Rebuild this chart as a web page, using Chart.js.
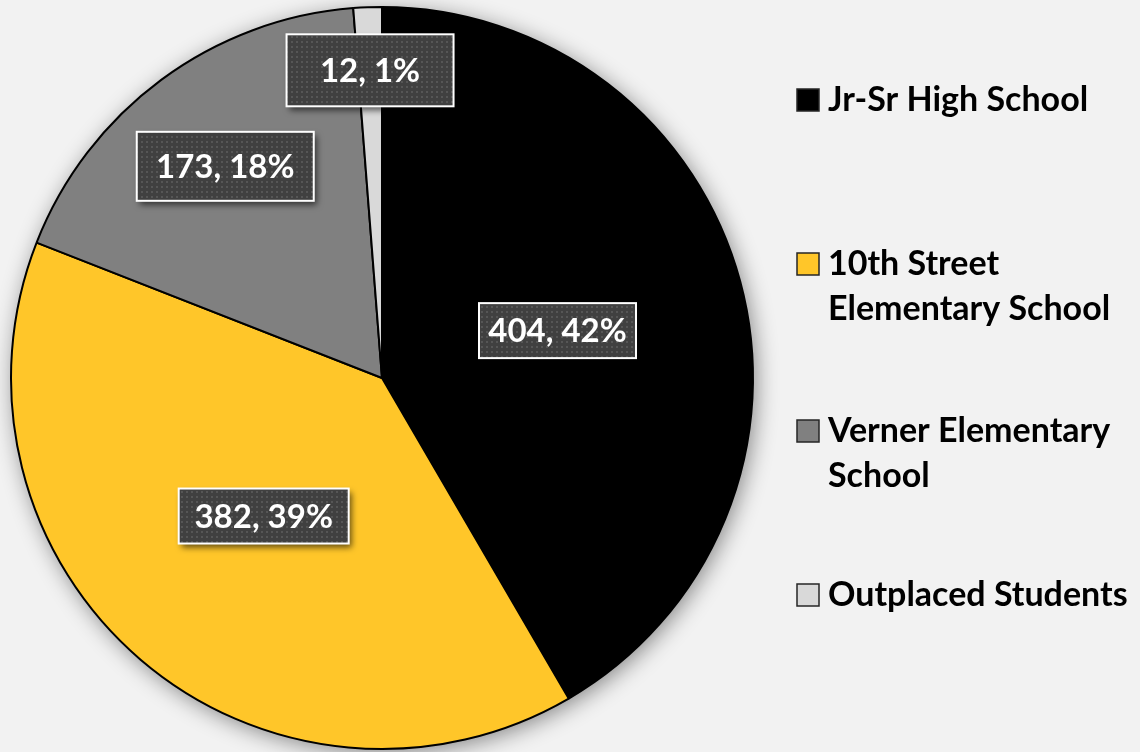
<!DOCTYPE html>
<html>
<head>
<meta charset="utf-8">
<script src="https://cdn.jsdelivr.net/npm/chart.js@4.4.1/dist/chart.umd.min.js"></script>
<style>
  html, body { margin: 0; padding: 0; background: #f2f2f2; }
  #wrap { width: 1140px; height: 752px; }
</style>
</head>
<body>
<div id="wrap"><canvas id="c" width="1140" height="752"></canvas></div>
<script>
// ---- data ----
const categories = ['Jr-Sr High School', '10th Street Elementary School', 'Verner Elementary School', 'Outplaced Students'];
const legendLines = [['Jr-Sr High School'], ['10th Street', 'Elementary School'], ['Verner Elementary', 'School'], ['Outplaced Students']];
const values = [404, 382, 173, 12];
const sliceColors = ['#000000', '#FFC629', '#808080', '#D9D9D9'];

const total = values.reduce((a, b) => a + b, 0);
const labelTexts = values.map(v => v + ', ' + Math.round(v / total * 100) + '%');

// dotted pattern for label boxes
function makePattern(ctx) {
  const p = document.createElement('canvas');
  p.width = 5; p.height = 5;
  const pc = p.getContext('2d');
  pc.fillStyle = '#404040';
  pc.fillRect(0, 0, 5, 5);
  pc.fillStyle = '#565656';
  pc.fillRect(1, 1, 2, 2);
  return ctx.createPattern(p, 'repeat');
}

const pieShadow = {
  id: 'pieShadow',
  beforeDatasetsDraw(chart) {
    const arc = chart.getDatasetMeta(0).data[0];
    if (!arc) return;
    const ctx = chart.ctx;
    ctx.save();
    ctx.shadowColor = 'rgba(0,0,0,0.45)';
    ctx.shadowBlur = 22;
    ctx.shadowOffsetX = 3;
    ctx.shadowOffsetY = 4;
    ctx.fillStyle = '#808080';
    ctx.beginPath();
    ctx.arc(arc.x, arc.y, arc.outerRadius, 0, Math.PI * 2);
    ctx.fill();
    ctx.restore();
  }
};

const boxLabels = {
  id: 'boxLabels',
  afterDatasetsDraw(chart, args, opts) {
    const ctx = chart.ctx;
    const pattern = makePattern(ctx);
    chart.getDatasetMeta(0).data.forEach((arc, i) => {
      const mid = (arc.startAngle + arc.endAngle) / 2;
      const r = arc.outerRadius * opts.frac[i];
      const cx = arc.x + Math.cos(mid) * r;
      const cy = arc.y + Math.sin(mid) * r;
      const w = opts.w[i], h = opts.h[i];
      const x0 = cx - w / 2, y0 = cy - h / 2;
      ctx.save();
      ctx.shadowColor = 'rgba(0,0,0,0.6)';
      ctx.shadowBlur = 6;
      ctx.shadowOffsetX = 3;
      ctx.shadowOffsetY = 4;
      ctx.fillStyle = pattern;
      ctx.fillRect(x0, y0, w, h);
      ctx.restore();
      ctx.save();
      ctx.strokeStyle = '#ffffff';
      ctx.lineWidth = 2;
      ctx.strokeRect(x0, y0, w, h);
      ctx.fillStyle = '#ffffff';
      ctx.font = 'bold 33px Lato';
      ctx.textAlign = 'center';
      ctx.textBaseline = 'middle';
      ctx.fillText(labelTexts[i], cx, cy + 1);
      ctx.restore();
    });
  }
};

const sideLegend = {
  id: 'sideLegend',
  afterDraw(chart, args, opts) {
    const ctx = chart.ctx;
    ctx.save();
    ctx.font = 'bold 34px Lato';
    ctx.textBaseline = 'alphabetic';
    ctx.textAlign = 'left';
    legendLines.forEach((lines, i) => {
      const b = opts.baselines[i];
      ctx.fillStyle = sliceColors[i];
      ctx.fillRect(opts.boxX, b - 22, 22, 22);
      ctx.strokeStyle = '#262626';
      ctx.lineWidth = 1.5;
      ctx.strokeRect(opts.boxX, b - 22, 22, 22);
      ctx.fillStyle = '#000000';
      lines.forEach((t, j) => ctx.fillText(t, opts.textX, b + j * opts.lineH));
    });
    ctx.restore();
  }
};

new Chart(document.getElementById('c'), {
  type: 'pie',
  data: {
    labels: categories,
    datasets: [{
      data: values,
      backgroundColor: sliceColors,
      borderColor: '#000000',
      borderWidth: 2
    }]
  },
  options: {
    responsive: false,
    animation: false,
    layout: { padding: { left: 10, right: 386, top: 6, bottom: 2 } },
    plugins: {
      legend: { display: false },
      tooltip: { enabled: false },
      boxLabels: { frac: [0.49, 0.49, 0.71, 0.83], w: [157, 170, 177, 167], h: [55, 55, 69, 72] },
      sideLegend: { boxX: 797, textX: 828, lineH: 45, baselines: [111, 275, 442, 606] }
    }
  },
  plugins: [pieShadow, boxLabels, sideLegend]
});
</script>
</body>
</html>
